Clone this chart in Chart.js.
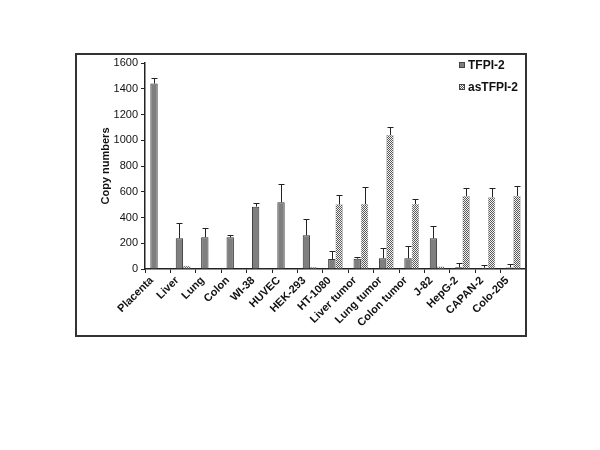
<!DOCTYPE html>
<html>
<head>
<meta charset="utf-8">
<script src="https://cdn.jsdelivr.net/npm/chart.js@4/dist/chart.umd.min.js"></script>
<style>
  body { margin: 0; background: #fff; }
  #wrap { width: 600px; height: 450px; }
</style>
</head>
<body>
<div id="wrap"><canvas id="copyChart" width="600" height="450"></canvas></div>
<script>
// cell lines / tissues
const categories = ['Placenta', 'Liver', 'Lung', 'Colon', 'WI-38', 'HUVEC', 'HEK-293', 'HT-1080',
  'Liver tumor', 'Lung tumor', 'Colon tumor', 'J-82', 'HepG-2', 'CAPAN-2', 'Colo-205'];

// copy numbers
const tfpi = [1440, 238, 246, 246, 484, 518, 262, 78, 80, 83, 83, 238, 13, 10, 12];
const tfpiErr = [42, 120, 75, 16, 31, 140, 129, 64, 16, 77, 98, 93, 31, 19, 24];
const asTfpi = [0, 25, 3, 3, 2, 3, 15, 502, 504, 1041, 504, 20, 567, 557, 567];
const asTfpiErr = [0, 0, 0, 0, 0, 0, 0, 70, 130, 59, 37, 0, 60, 70, 78];

const yTicks = [0, 200, 400, 600, 800, 1000, 1200, 1400, 1600];

const FONT = '"Liberation Sans", Arial, sans-serif';

// fine checker fill for asTFPI-2
function makeChecker() {
  const pc = document.createElement('canvas');
  pc.width = 2; pc.height = 2;
  const g = pc.getContext('2d');
  g.fillStyle = '#f2f2f2';
  g.fillRect(0, 0, 2, 2);
  g.fillStyle = '#5a5a5a';
  g.fillRect(0, 0, 1, 1);
  g.fillRect(1, 1, 1, 1);
  return g.createPattern(pc, 'repeat');
}

document.addEventListener("DOMContentLoaded", function () {
  const ctx = document.getElementById('copyChart').getContext('2d');
  const checker = makeChecker();
  const errs = [tfpiErr, asTfpiErr];

  // white page + frame round the figure
  const framePlugin = {
    id: 'frame',
    beforeDraw(chart) {
      const c = chart.ctx;
      c.save();
      c.fillStyle = '#fff';
      c.fillRect(0, 0, chart.width, chart.height);
      c.restore();
    },
    afterDraw(chart) {
      const c = chart.ctx, a = chart.chartArea;
      c.save();
      c.strokeStyle = '#333';
      c.lineWidth = 2;
      c.strokeRect(a.left - 69, a.top - 9, a.right - a.left + 69, 282);
      c.restore();
    }
  };

  // upper error bars
  const errorBars = {
    id: 'errorBars',
    afterDatasetsDraw(chart) {
      const c = chart.ctx, y = chart.scales.y;
      c.save();
      c.strokeStyle = '#222';
      c.lineWidth = 1;
      chart.data.datasets.forEach((ds, i) => {
        chart.getDatasetMeta(i).data.forEach((bar, j) => {
          const e = errs[i][j];
          if (!e) return;
          const top = Math.round(y.getPixelForValue(ds.data[j] + e)) + 0.5;
          const x = Math.round(bar.x) + 0.5;
          c.beginPath();
          c.moveTo(x, bar.y);
          c.lineTo(x, top);
          c.moveTo(x - 3, top);
          c.lineTo(x + 3, top);
          c.stroke();
        });
      });
      c.restore();
    }
  };

  // legend in the upper right of the plot
  const cornerLegend = {
    id: 'cornerLegend',
    afterDraw(chart) {
      const c = chart.ctx, a = chart.chartArea;
      const x0 = a.right - 67, y0 = a.top + 2;
      c.save();
      c.font = 'bold 12px ' + FONT;
      c.textBaseline = 'middle';
      chart.data.datasets.forEach((ds, i) => {
        const yy = y0 + i * 22;
        c.fillStyle = ds.backgroundColor;
        c.fillRect(x0, yy - 3, 6, 6);
        c.strokeStyle = '#444';
        c.lineWidth = 1;
        c.strokeRect(x0 + 0.5, yy - 2.5, 5, 5);
        c.fillStyle = '#111';
        c.fillText(ds.label, x0 + 9, yy + 1);
      });
      c.restore();
    }
  };

  new Chart(ctx, {
    type: 'bar',
    data: {
      labels: categories,
      datasets: [{
        label: 'TFPI-2',
        data: tfpi,
        backgroundColor: '#7f7f7f',
        borderColor: '#333',
        borderWidth: 1,
        categoryPercentage: 0.58,
        barPercentage: 1
      }, {
        label: 'asTFPI-2',
        data: asTfpi,
        backgroundColor: checker,
        borderColor: '#999',
        borderWidth: 0.5,
        categoryPercentage: 0.58,
        barPercentage: 1
      }]
    },
    options: {
      responsive: false,
      animation: false,
      layout: { padding: { left: 95, top: 63, right: 74, bottom: 111 } },
      plugins: {
        legend: { display: false },
        tooltip: { enabled: false }
      },
      scales: {
        y: {
          min: 0,
          max: 1600,
          afterFit: s => { s.width = 50; },
          afterBuildTicks: s => { s.ticks = yTicks.map(v => ({ value: v })); },
          border: { color: '#222', width: 1.5 },
          grid: { drawOnChartArea: false, tickLength: 4, color: '#222' },
          ticks: {
            padding: 3,
            color: '#111',
            font: { family: FONT, size: 11 },
            callback: v => String(v)
          },
          title: {
            display: true,
            text: 'Copy numbers',
            color: '#111',
            padding: { top: 4, bottom: 0 },
            font: { family: FONT, size: 11, weight: 'bold' }
          }
        },
        x: {
          afterFit: s => { s.height = 70; },
          border: { color: '#222', width: 1.5 },
          grid: { drawOnChartArea: false, offset: true, tickLength: 4, color: '#222' },
          ticks: {
            autoSkip: false,
            minRotation: 45,
            maxRotation: 45,
            padding: 1,
            labelOffset: -6,
            color: '#111',
            font: { family: FONT, size: 11, weight: 'bold' }
          }
        }
      }
    },
    plugins: [framePlugin, errorBars, cornerLegend]
  });
});
</script>
</body>
</html>
